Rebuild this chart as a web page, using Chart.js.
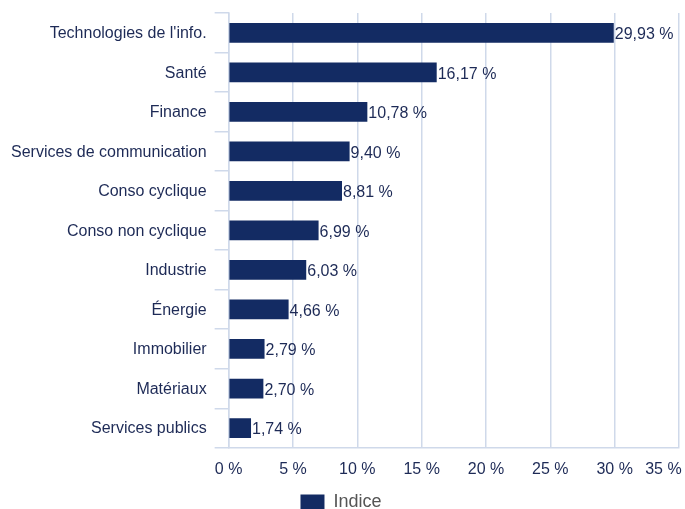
<!DOCTYPE html>
<html lang="fr">
<head>
    <meta charset="UTF-8">
    <title>Répartition sectorielle</title>
    <script src="https://cdn.jsdelivr.net/npm/chart.js@4/dist/chart.umd.min.js"></script>
    <style>
        html, body { margin: 0; padding: 0; background: #fff; }
        #wrap { width: 685px; height: 509px; }
    </style>
</head>
<body>
    <div id="wrap"><canvas id="sectorChart"></canvas></div>
    <script>
        // Data
        const sectors = ['Technologies de l\'info.', 'Santé', 'Finance', 'Services de communication',
            'Conso cyclique', 'Conso non cyclique', 'Industrie', 'Énergie', 'Immobilier',
            'Matériaux', 'Services publics'];
        const indexWeights = [29.93, 16.17, 10.78, 9.40, 8.81, 6.99, 6.03, 4.66, 2.79, 2.70, 1.74];
        const seriesName = 'Indice';
        const xTicks = [0, 5, 10, 15, 20, 25, 30, 35];

        const navy = '#132b63';
        const textNavy = '#1d2a56';
        const gridColor = '#cfd9ea';
        const fontFamily = '"Liberation Sans", Arial, Helvetica, sans-serif';

        const pct = v => v.toFixed(2).replace('.', ',') + ' %';

        // value labels at the end of each bar
        const barLabels = {
            id: 'barLabels',
            afterDatasetsDraw(chart) {
                const ctx = chart.ctx;
                const meta = chart.getDatasetMeta(0);
                ctx.save();
                ctx.font = '16px ' + fontFamily;
                ctx.fillStyle = textNavy;
                ctx.textAlign = 'left';
                ctx.textBaseline = 'middle';
                meta.data.forEach((bar, i) => {
                    ctx.fillText(pct(indexWeights[i]), bar.x + 1, bar.y + 2);
                });
                ctx.restore();
            }
        };

        new Chart(document.getElementById('sectorChart'), {
            type: 'bar',
            data: {
                labels: sectors,
                datasets: [{
                    label: seriesName,
                    data: indexWeights,
                    backgroundColor: navy,
                    barPercentage: 0.5,
                    categoryPercentage: 1.0
                }]
            },
            options: {
                indexAxis: 'y',
                responsive: true,
                maintainAspectRatio: false,
                animation: false,
                layout: { padding: { top: 13, right: 6, left: 3, bottom: -12 } },
                scales: {
                    x: {
                        min: 0,
                        max: 35,
                        afterBuildTicks: scale => { scale.ticks = xTicks.map(v => ({ value: v })); },
                        afterFit: scale => { scale.paddingRight = 0; scale.paddingLeft = 0; },
                        grid: { color: gridColor, lineWidth: 1.5, drawTicks: false },
                        border: { display: true, color: gridColor, width: 1.5 },
                        ticks: {
                            padding: 12,
                            autoSkip: false,
                            color: textNavy,
                            font: { family: fontFamily, size: 16 },
                            maxRotation: 0,
                            // last label pulled inside the canvas with trailing spaces
                            callback: v => v === 35 ? v + ' %' + '\u00a0'.repeat(7) : v + ' %'
                        }
                    },
                    y: {
                        afterFit: scale => { scale.paddingTop = 0; scale.paddingBottom = 0; },
                        grid: { color: gridColor, lineWidth: 1.5, drawOnChartArea: false, offset: true, tickLength: 14 },
                        border: { display: true, color: gridColor, width: 1.5 },
                        ticks: {
                            padding: 8,
                            labelOffset: 1,
                            color: textNavy,
                            font: { family: fontFamily, size: 16 }
                        }
                    }
                },
                plugins: {
                    legend: {
                        position: 'bottom',
                        labels: {
                            boxWidth: 24,
                            boxHeight: 15,
                            padding: 2,
                            color: '#555555',
                            font: { family: fontFamily, size: 18 }
                        }
                    },
                    tooltip: { enabled: false }
                }
            },
            plugins: [barLabels]
        });
    </script>
</body>
</html>
